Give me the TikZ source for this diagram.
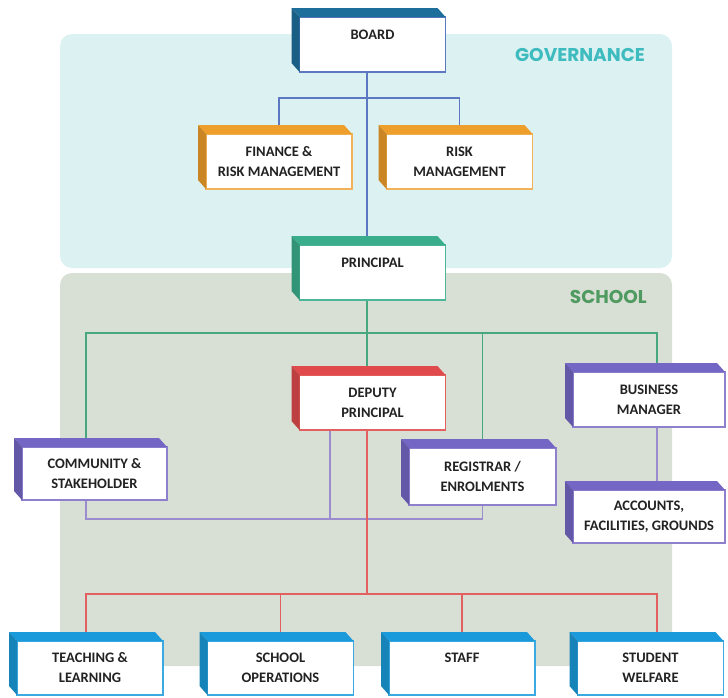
\documentclass[tikz,border=0pt]{standalone}
\usepackage{fontspec}
\newfontfamily\boxfont{Carlito}
\newfontfamily\areafont{Poppins}
\usetikzlibrary{calc}

\pgfdeclarelayer{panels}
\pgfdeclarelayer{wires}
\pgfsetlayers{panels,wires,main}

% palette
\definecolor{govfill}{HTML}{DCF2F2}
\definecolor{schoolfill}{HTML}{D8DFD4}
\definecolor{govtext}{HTML}{3DBBBE}
\definecolor{schooltext}{HTML}{4E9A60}
\definecolor{txtgray}{HTML}{222222}
\definecolor{blueface}{HTML}{1E6E9C}
\definecolor{blueedge}{HTML}{5B78C0}
\definecolor{orangeface}{HTML}{EE9E2A}
\definecolor{orangeedge}{HTML}{F2B25A}
\definecolor{greenface}{HTML}{3AAE8C}
\definecolor{greenedge}{HTML}{4DB598}
\definecolor{greenwire}{HTML}{47A77E}
\definecolor{redface}{HTML}{E04A4C}
\definecolor{redwire}{HTML}{E26060}
\definecolor{purpleface}{HTML}{7466C4}
\definecolor{purpleedge}{HTML}{8E80CC}
\definecolor{purplewire}{HTML}{9A8CCF}
\definecolor{cyanface}{HTML}{1A9ADA}
\definecolor{cyanedge}{HTML}{3AAAE0}

\tikzset{
  unit/.style={draw=#1, fill=white, line width=1.3pt, outer sep=0pt,
    minimum width=146pt, minimum height=55pt, inner sep=0pt, align=center,
    text=txtgray, font=\boxfont\bfseries\fontsize{14.5}{20}\selectfont},
  wire/.style={draw=#1, line width=1.4pt},
  panel/.style={fill=#1, rounded corners=12pt},
  arealabel/.style={text=#1, font=\areafont\bfseries\fontsize{18.5}{20}\selectfont, inner sep=0pt},
}

% top and left faces of a raised box
\newcommand\orgfaces[2]{%
  \fill[#2] (#1.north west) -- ++(-8,-9) -- ($(#1.north east)+(-8,-9)$) -- (#1.north east) -- cycle;
  \fill[#2!85!black] (#1.north west) -- ++(-8,-9) -- ($(#1.south west)+(-8,-9)$) -- (#1.south west) -- cycle;
}

\begin{document}
\begin{tikzpicture}[x=1pt,y=-1pt]
\useasboundingbox (0,0) rectangle (728,697);

% background areas
\begin{pgfonlayer}{panels}
  \fill[panel=govfill] (60,34) rectangle (672,268);
  \fill[panel=schoolfill] (60,273) rectangle (672,666);
\end{pgfonlayer}
\node[arealabel=govtext] (govlabel) at (580,55) {GOVERNANCE};
\node[arealabel=schooltext, anchor=east] (schoollabel) at (647,297) {SCHOOL};

% boxes
\node[unit=blueedge] (board) at (372.5,44.5) {BOARD\\\mbox{}};
\orgfaces{board}{blueface}
\node[unit=orangeedge] (finance) at (279,161.5) {FINANCE \&\\RISK MANAGEMENT};
\orgfaces{finance}{orangeface}
\node[unit=orangeedge] (risk) at (459.5,161.5) {RISK\\MANAGEMENT};
\orgfaces{risk}{orangeface}
\node[unit=greenedge] (principal) at (372.5,272.5) {PRINCIPAL\\\mbox{}};
\orgfaces{principal}{greenface}
\node[unit=redwire] (deputy) at (372.5,402.5) {DEPUTY\\PRINCIPAL};
\orgfaces{deputy}{redface}
\node[unit=purpleedge, minimum width=152pt] (business) at (649,399.5) {BUSINESS\\MANAGER};
\orgfaces{business}{purpleface}
\node[unit=purpleedge, minimum width=152pt, minimum height=53pt] (accounts) at (649,516.5) {ACCOUNTS,\\FACILITIES, GROUNDS};
\orgfaces{accounts}{purpleface}
\node[unit=purpleedge, minimum width=145pt, minimum height=53pt] (community) at (94.5,473.5) {COMMUNITY \&\\STAKEHOLDER};
\orgfaces{community}{purpleface}
\node[unit=purpleedge, minimum width=147pt, minimum height=57pt] (registrar) at (482.5,476.5) {REGISTRAR /\\ENROLMENTS};
\orgfaces{registrar}{purpleface}
\node[unit=cyanedge, minimum height=54pt] (teaching) at (90,668) {TEACHING \&\\LEARNING};
\orgfaces{teaching}{cyanface}
\node[unit=cyanedge, minimum height=54pt] (operations) at (280.5,668) {SCHOOL\\OPERATIONS};
\orgfaces{operations}{cyanface}
\node[unit=cyanedge, minimum height=54pt] (staff) at (462,668) {STAFF\\\mbox{}};
\orgfaces{staff}{cyanface}
\node[unit=cyanedge, minimum height=54pt] (welfare) at (650.5,668) {STUDENT\\WELFARE};
\orgfaces{welfare}{cyanface}

% connectors
\coordinate (spine) at (367,0);
\coordinate (leftdrop) at (86,0);
\coordinate (rightdrop) at (657,0);
\coordinate (deputyside) at (330,0);
\coordinate (govbus) at (0,98);
\coordinate (greenbus) at (0,333);
\coordinate (purplebus) at (0,519);
\coordinate (redbus) at (0,594);

\begin{pgfonlayer}{wires}
  % governance
  \draw[wire=blueedge] (board.south -| spine) -- (principal.north -| spine);
  \draw[wire=blueedge] (finance.north) -- (finance.north |- govbus) -- (risk.north |- govbus) -- (risk.north);
  % principal to school units
  \draw[wire=greenwire] (principal.south -| spine) -- (deputy.north -| spine);
  \draw[wire=greenwire] (community.north -| leftdrop) -- (leftdrop |- greenbus) -- (rightdrop |- greenbus) -- (business.north -| rightdrop);
  \draw[wire=greenwire] (registrar.north) -- (registrar.north |- greenbus);
  % deputy support units
  \draw[wire=purplewire] (community.south -| leftdrop) -- (leftdrop |- purplebus) -- (registrar.south |- purplebus) -- (registrar.south);
  \draw[wire=purplewire] (deputy.south -| deputyside) -- (deputyside |- purplebus);
  \draw[wire=purplewire] (business.south -| rightdrop) -- (accounts.north -| rightdrop);
  % deputy to teams
  \draw[wire=redwire] (deputy.south -| spine) -- (spine |- redbus);
  \draw[wire=redwire] (teaching.north -| leftdrop) -- (leftdrop |- redbus) -- (rightdrop |- redbus) -- (welfare.north -| rightdrop);
  \draw[wire=redwire] (operations.north) -- (operations.north |- redbus);
  \draw[wire=redwire] (staff.north) -- (staff.north |- redbus);
\end{pgfonlayer}
\end{tikzpicture}
\end{document}
